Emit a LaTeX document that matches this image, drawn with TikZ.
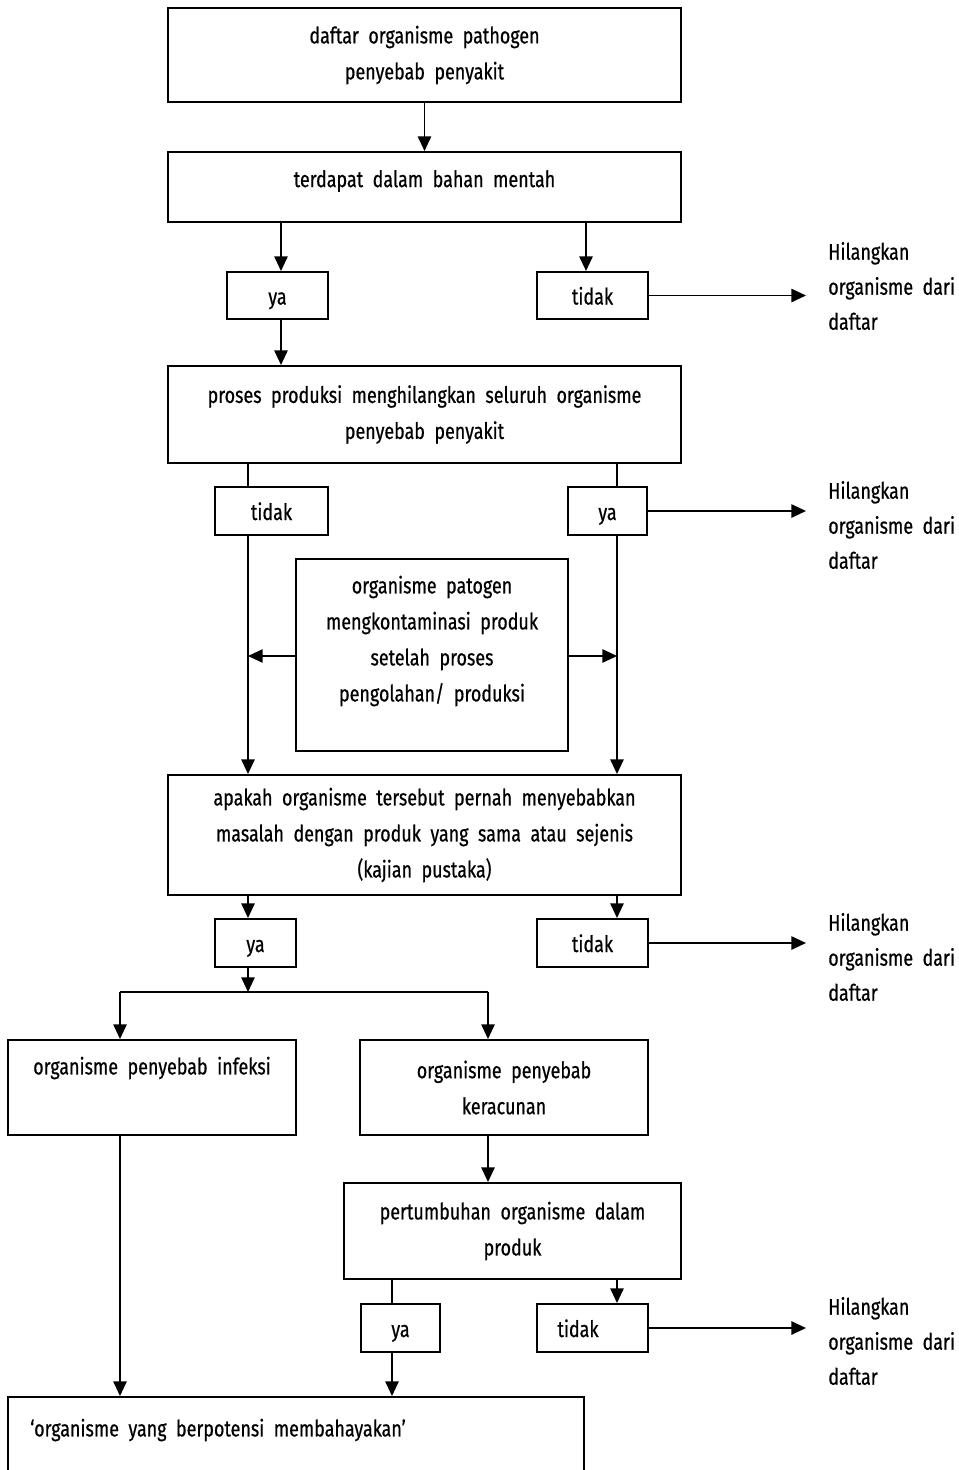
\documentclass[tikz,border=0pt]{standalone}
\usepackage{fontspec}
\setmainfont{Fira Sans}[FakeStretch=0.79,FakeBold=0.6]
\usetikzlibrary{arrows.meta}
\newcommand{\pxu}{0.75pt}
\begin{document}
\begin{tikzpicture}[x=0.75pt,y=-0.75pt,
  font=\fontsize{17}{27}\selectfont,
  box/.style={draw,line width=1.5pt,inner sep=0pt,align=center},
  yn/.style={box,text height=17pt,text depth=3.5pt},
  txt/.style={inner sep=0pt,align=center},
  side/.style={inner sep=0pt,align=left,anchor=west,font=\fontsize{17}{26.25}\selectfont},
  arr/.style={line width=1.35pt,-{Triangle[length=11pt,width=10pt]}},
  ln/.style={line width=1.35pt}]
\useasboundingbox (0,0) rectangle (958,1470);
\clip (0,0) rectangle (958,1470);
% column helpers
\coordinate (xA) at (281,0);
\coordinate (xB) at (586,0);
\coordinate (xC) at (248,0);
\coordinate (xD) at (617,0);
\coordinate (xE) at (120,0);
\coordinate (xF) at (488,0);
\coordinate (xG) at (392,0);
\coordinate (xR) at (806,0);
% boxes
\node[box,minimum width=513*\pxu,minimum height=94*\pxu] (b1) at (424.5,55) {daftar\ \ organisme\ \ pathogen\\penyebab\ \ penyakit};
\node[box,minimum width=513*\pxu,minimum height=70*\pxu] (b2) at (424.5,187) {};
\node[txt] (b2t) at (424.5,181) {terdapat\ \ dalam\ \ bahan\ \ mentah};
\node[yn,minimum width=101*\pxu,minimum height=47*\pxu] (ya1) at (277.5,295.5) {ya};
\node[yn,minimum width=111*\pxu,minimum height=47*\pxu] (no1) at (592.5,295.5) {tidak};
\node[box,minimum width=513*\pxu,minimum height=97*\pxu] (b3) at (424.5,414.5) {proses\ \ produksi\ \ menghilangkan\ \ seluruh\ \ organisme\\penyebab\ \ penyakit};
\node[yn,minimum width=113*\pxu,minimum height=48*\pxu] (no2) at (271.5,511) {tidak};
\node[yn,minimum width=79*\pxu,minimum height=48*\pxu] (ya2) at (607.5,511) {ya};
\node[box,minimum width=272*\pxu,minimum height=192*\pxu] (mid) at (432,655) {};
\node[txt] (midt) at (432,641) {organisme\ \ patogen\\mengkontaminasi\ \ produk\\setelah\ \ proses\\pengolahan/\ \ produksi};
\node[box,minimum width=513*\pxu,minimum height=120*\pxu] (b5) at (424.5,835) {apakah\ \ organisme\ \ tersebut\ \ pernah\ \ menyebabkan\\masalah\ \ dengan\ \ produk\ \ yang\ \ sama\ \ atau\ \ sejenis\\(kajian\ \ pustaka)};
\node[yn,minimum width=81*\pxu,minimum height=48*\pxu] (ya3) at (255.5,943) {ya};
\node[yn,minimum width=111*\pxu,minimum height=48*\pxu] (no3) at (592.5,943) {tidak};
\node[box,minimum width=288*\pxu,minimum height=95*\pxu] (inf) at (152,1087.5) {};
\node[txt] (inft) at (152,1068) {organisme\ \ penyebab\ \ infeksi};
\node[box,minimum width=288*\pxu,minimum height=95*\pxu] (ker) at (504,1087.5) {organisme\ \ penyebab\\keracunan};
\node[box,minimum width=337*\pxu,minimum height=96*\pxu] (pert) at (512.5,1231) {pertumbuhan\ \ organisme\ \ dalam\\produk};
\node[yn,minimum width=79*\pxu,minimum height=48*\pxu] (ya4) at (400.5,1328) {ya};
\node[box,minimum width=111*\pxu,minimum height=48*\pxu] (no4) at (592.5,1328) {};
\node[txt,text height=17pt,text depth=3.5pt] (no4t) at (578,1328) {tidak};
\node[box,minimum width=576*\pxu,minimum height=110*\pxu] (fin) at (296,1452) {};
\node[txt,anchor=west] (fint) at (30,1430) {‘organisme\ \ yang\ \ berpotensi\ \ membahayakan’};
% side notes
\node[side] (h1) at (828,286) {Hilangkan\\organisme\ \ dari\\daftar};
\node[side] (h2) at (828,525) {Hilangkan\\organisme\ \ dari\\daftar};
\node[side] (h3) at (828,957) {Hilangkan\\organisme\ \ dari\\daftar};
\node[side] (h4) at (828,1341) {Hilangkan\\organisme\ \ dari\\daftar};
% connectors
\draw[arr] (b1) -- (b2);
\draw[arr] (b2.south -| xA) -- (ya1.north -| xA);
\draw[arr] (b2.south -| xB) -- (no1.north -| xB);
\draw[arr] (no1.east) -- (no1.east -| xR);
\draw[arr] (ya1.south -| xA) -- (b3.north -| xA);
\draw[ln] (b3.south -| xC) -- (no2.north -| xC);
\draw[ln] (b3.south -| xD) -- (ya2.north -| xD);
\draw[arr] (ya2.east) -- (ya2.east -| xR);
\draw[arr] (no2.south -| xC) -- (b5.north -| xC);
\draw[arr] (ya2.south -| xD) -- (b5.north -| xD);
\draw[arr] (mid.west |- 0,656) -- (xC |- 0,656);
\draw[arr] (mid.east |- 0,656) -- (xD |- 0,656);
\draw[arr] (b5.south -| xC) -- (ya3.north -| xC);
\draw[arr] (b5.south -| xD) -- (no3.north -| xD);
\draw[arr] (no3.east) -- (no3.east -| xR);
\coordinate (split) at (248,992);
\draw[arr] (ya3.south -| xC) -- (split);
\draw[ln] (split -| xE) -- (split -| xF);
\draw[arr] (split -| xE) -- (inf.north -| xE);
\draw[arr] (split -| xF) -- (ker.north -| xF);
\draw[arr] (ker.south -| xF) -- (pert.north -| xF);
\draw[ln] (pert.south -| xG) -- (ya4.north -| xG);
\draw[arr] (pert.south -| xD) -- (no4.north -| xD);
\draw[arr] (no4.east) -- (no4.east -| xR);
\draw[arr] (ya4.south -| xG) -- (fin.north -| xG);
\draw[arr] (inf.south -| xE) -- (fin.north -| xE);
\end{tikzpicture}
\end{document}
